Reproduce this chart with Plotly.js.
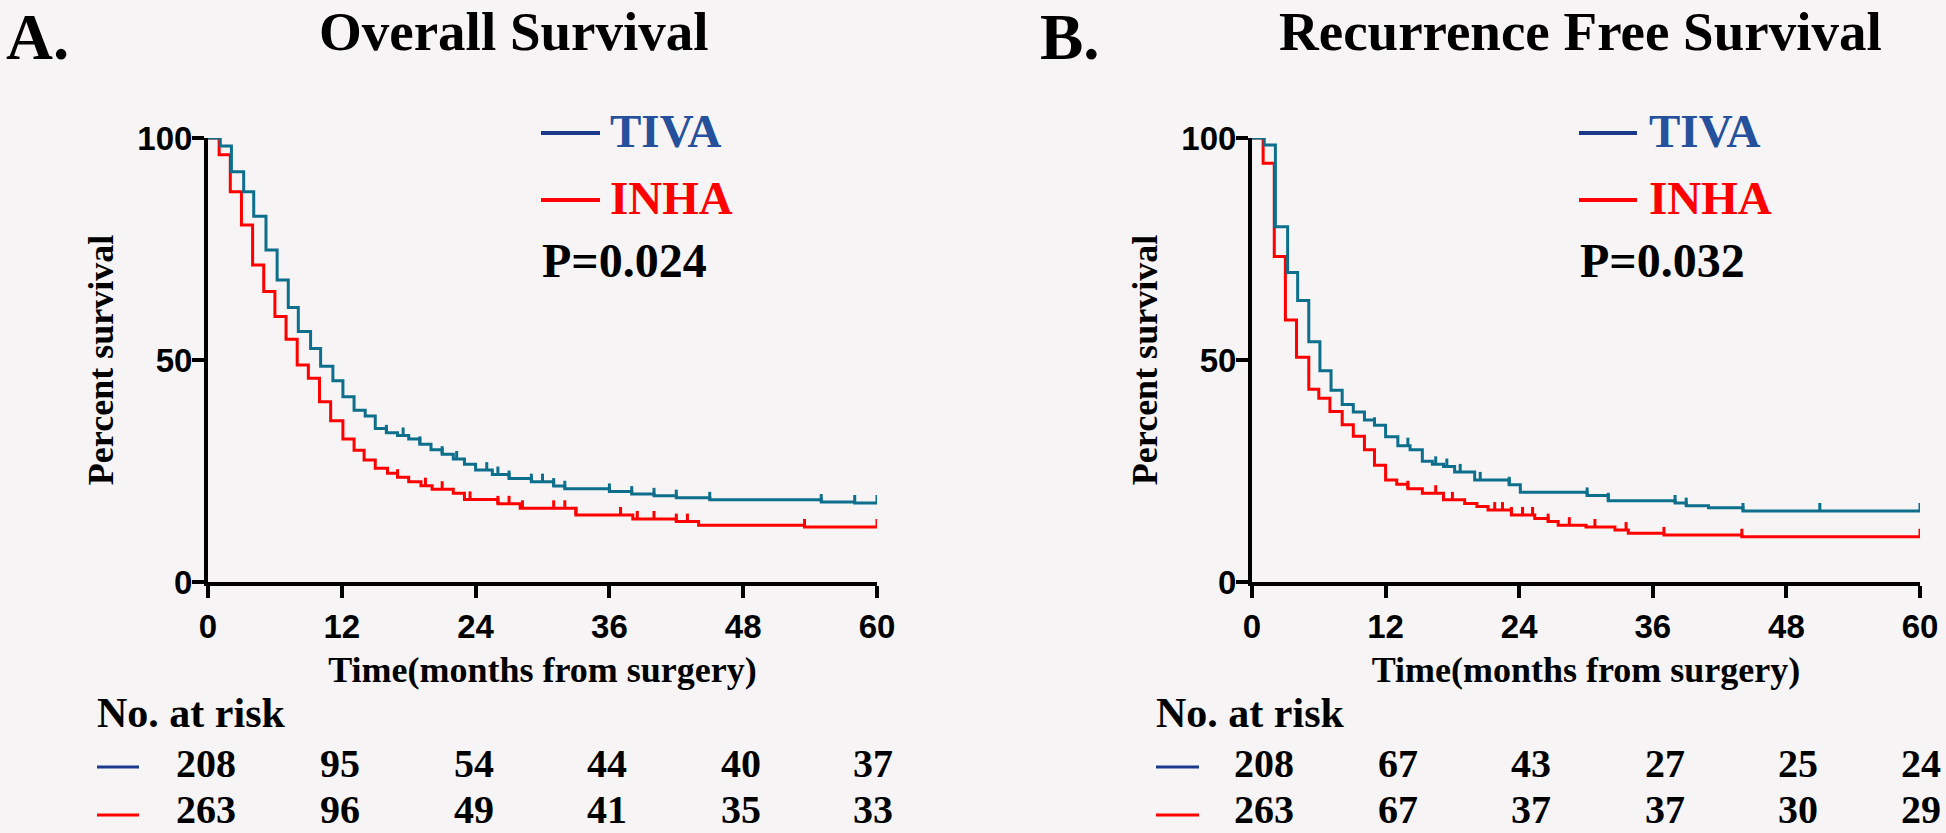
<!DOCTYPE html>
<html><head><meta charset="utf-8">
<script src="https://cdn.plot.ly/plotly-3.0.1.min.js"></script>
<style>html,body{margin:0;padding:0;background:#f6f4f5;} #chart{width:1946px;height:833px;}</style>
</head><body><div id="chart"></div>
<script>
// ---------- DATA ----------
const xTicks = [0, 12, 24, 36, 48, 60];
const yTicks = [0, 50, 100];
const groups = ['TIVA', 'INHA'];

// Panel A: Overall Survival (step times in months, survival % after each step)
const timesA_TIVA = [0, 1.1, 2.1, 3.2, 4.1, 5.2, 6.2, 7.2, 8.1, 9.2, 10.1, 11.2, 12.1, 13.1, 14.1, 15.0, 16.0, 17.0, 18.0, 19.0, 20.0, 21.0, 22.0, 23.0, 24.0, 25.5, 27.0, 29.0, 31.0, 32.0, 36.0, 38.0, 40.0, 42.0, 45.0, 55.0, 58.0, 60];
const survA_TIVA  = [100, 98.2, 92.4, 87.9, 82.4, 74.8, 68.0, 61.8, 56.4, 52.6, 48.6, 45.3, 41.7, 38.7, 37.4, 34.6, 33.6, 33.0, 32.2, 31.0, 29.8, 28.8, 27.7, 26.5, 25.2, 24.2, 23.3, 22.6, 21.6, 21.0, 20.4, 19.8, 19.4, 19.0, 18.5, 18.0, 17.8, 17.8];
const censorA_TIVA = [16, 17.5, 19, 21, 22.3, 25, 26, 27, 29, 30, 31, 32, 36, 38, 40, 42, 45, 55, 58, 60];

const timesA_INHA = [0, 1.0, 2.0, 3.0, 4.0, 5.0, 6.0, 7.0, 8.0, 9.0, 10.0, 11.0, 12.1, 13.1, 14.0, 15.0, 16.1, 17.0, 18.0, 19.1, 20.1, 22.0, 23.0, 26.0, 28.0, 33.0, 38.1, 42.0, 44.0, 53.5, 60];
const survA_INHA  = [100, 96.2, 87.9, 80.4, 71.4, 65.4, 59.8, 54.7, 48.9, 45.9, 40.6, 36.3, 32.2, 29.7, 27.5, 25.6, 24.5, 23.6, 22.6, 21.7, 20.9, 20.0, 18.6, 17.6, 16.6, 15.1, 14.2, 13.6, 12.8, 12.4, 12.4];
const censorA_INHA = [17, 19.5, 21, 23.5, 26, 27, 28.2, 31, 32, 33, 37, 38.5, 40, 42, 43, 53.5, 60];

// Panel B: Recurrence Free Survival
const timesB_TIVA = [0, 1.1, 2.1, 3.2, 4.1, 5.1, 6.1, 7.1, 8.1, 9.1, 10.1, 11.0, 12.0, 13.1, 14.2, 15.3, 16.2, 17.2, 18.2, 20.0, 23.1, 24.1, 30.1, 32.0, 38.0, 39.0, 41.0, 44.1, 60];
const survB_TIVA  = [100, 98.4, 80.0, 69.7, 63.4, 54.1, 47.6, 43.2, 40.0, 38.3, 36.5, 35.3, 32.7, 30.7, 29.8, 27.2, 26.5, 26.0, 24.8, 23.0, 21.9, 20.2, 19.5, 18.3, 17.8, 17.2, 16.7, 16.0, 16.0];
const censorB_TIVA = [11, 14, 16.5, 17.5, 18.7, 20.5, 23.1, 30.1, 32, 38, 39, 44.1, 51, 60];

const timesB_INHA = [0, 1.0, 2.0, 3.0, 4.0, 5.1, 6.0, 7.0, 8.1, 9.1, 10.1, 11.0, 12.0, 13.0, 14.0, 15.3, 17.2, 19.1, 20.2, 21.2, 23.3, 25.4, 26.6, 27.5, 30.0, 32.6, 33.8, 37.0, 44.0, 60];
const survB_INHA  = [100, 94.3, 73.3, 59.0, 50.6, 43.4, 41.4, 38.4, 35.4, 32.8, 29.8, 26.3, 23.0, 22.0, 21.0, 20.0, 18.5, 17.7, 17.0, 16.2, 15.1, 14.3, 13.6, 12.8, 12.4, 11.7, 11.0, 10.6, 10.2, 10.2];
const censorB_INHA = [14, 16.5, 18, 21.8, 22.5, 23.3, 24.3, 25.2, 26.6, 28.5, 30.8, 33.6, 37, 44, 60];

// Number at risk
const riskA_TIVA = [208, 95, 54, 44, 40, 37];
const riskA_INHA = [263, 96, 49, 41, 35, 33];
const riskB_TIVA = [208, 67, 43, 27, 25, 24];
const riskB_INHA = [263, 67, 37, 37, 30, 29];

const pA = 'P=0.024';
const pB = 'P=0.032';
const titleA = 'Overall Survival';
const titleB = 'Recurrence Free Survival';

// ---------- STYLE ----------
const W = 1946, H = 833;
const px = v => v / W;
const py = v => 1 - v / H;
const serif = 'Liberation Serif, Times New Roman, serif';
const sans = 'Liberation Sans, Arial, sans-serif';
const cTeal = '#0d6f8c';
const cRed = '#ff0000';
const cNavy = '#1b3a8c';
const cBlueText = '#25519c';
const TICK_H = 1.8;

function stepValue(ts, ss, t) {
  let v = ss[0];
  for (let i = 0; i < ts.length; i++) { if (ts[i] <= t) v = ss[i]; }
  return v;
}
function curve(ts, ss, color, xa, ya) {
  return {x: ts, y: ss, mode: 'lines', line: {shape: 'hv', color: color, width: 3},
    xaxis: xa, yaxis: ya, showlegend: false, hoverinfo: 'skip', cliponaxis: false};
}
function censor(ts, ss, cs, color, xa, ya) {
  const x = [], y = [];
  cs.forEach(c => { const s = stepValue(ts, ss, c); x.push(c, c, null); y.push(s, s + TICK_H, null); });
  return {x: x, y: y, mode: 'lines', line: {color: color, width: 3}, xaxis: xa, yaxis: ya,
    showlegend: false, hoverinfo: 'skip', cliponaxis: false};
}

const data = [
  curve(timesA_INHA, survA_INHA, cRed, 'x', 'y'),
  censor(timesA_INHA, survA_INHA, censorA_INHA, cRed, 'x', 'y'),
  curve(timesA_TIVA, survA_TIVA, cTeal, 'x', 'y'),
  censor(timesA_TIVA, survA_TIVA, censorA_TIVA, cTeal, 'x', 'y'),
  curve(timesB_INHA, survB_INHA, cRed, 'x2', 'y2'),
  censor(timesB_INHA, survB_INHA, censorB_INHA, cRed, 'x2', 'y2'),
  curve(timesB_TIVA, survB_TIVA, cTeal, 'x2', 'y2'),
  censor(timesB_TIVA, survB_TIVA, censorB_TIVA, cTeal, 'x2', 'y2')
];

const tickFont = {family: sans, size: 33, color: '#000', weight: 'bold'};
const axTitleFont = {family: serif, size: 36, color: '#000', weight: 'bold'};
function xAxis(domain, anchor) {
  return {domain: domain, anchor: anchor, range: [0, 60], tickvals: xTicks, ticktext: xTicks.map(String),
    ticks: 'outside', ticklen: 12, tickwidth: 4, tickcolor: '#000', showline: true, linecolor: '#000', linewidth: 4,
    showgrid: false, zeroline: false, tickfont: tickFont, fixedrange: true,
    title: {text: 'Time(months from surgery)', font: axTitleFont, standoff: 14}};
}
function yAxis(anchor) {
  return {domain: [py(582), py(138)], anchor: anchor, range: [0, 100], tickvals: yTicks, ticktext: yTicks.map(String),
    ticks: 'outside', ticklen: 12, tickwidth: 4, tickcolor: '#000', showline: true, linecolor: '#000', linewidth: 4,
    showgrid: false, zeroline: false, tickfont: tickFont, fixedrange: true, ticklabelstandoff: -7,
    title: {text: 'Percent survival', font: axTitleFont, standoff: 14}};
}

function ann(text, x, y, size, color, xanchor, extra) {
  return Object.assign({text: text, x: x, y: y, xref: 'paper', yref: 'paper', xanchor: xanchor || 'left', yanchor: 'middle',
    showarrow: false, font: {family: serif, size: size, color: color || '#000', weight: 'bold'}}, extra || {});
}

const annotations = [
  ann('A.', px(4), py(37), 65),
  ann(titleA, px(514), py(32), 55, '#000', 'center'),
  ann('B.', px(1038), py(37), 65),
  ann(titleB, px(1580), py(32), 55, '#000', 'center'),
  ann(groups[0], px(608), py(131), 47, cBlueText),
  ann(groups[1], px(608), py(198), 47, cRed),
  ann(pA, px(540), py(260), 48),
  ann(groups[0], px(1647), py(131), 47, cBlueText),
  ann(groups[1], px(1647), py(198), 47, cRed),
  ann(pB, px(1578), py(260), 48),
  ann('No. at risk', px(95), py(713), 42),
  ann('No. at risk', px(1154), py(713), 42)
];
function riskRow(vals, xref, yPix, shift, lastShift) {
  vals.forEach((v, i) => {
    annotations.push({text: String(v), x: xTicks[i], y: py(yPix), xref: xref, yref: 'paper', xanchor: 'center', yanchor: 'middle',
      xshift: i === vals.length - 1 ? lastShift : shift, showarrow: false,
      font: {family: serif, size: 40, color: '#000', weight: 'bold'}});
  });
}
riskRow(riskA_TIVA, 'x', 763, -2, -4);
riskRow(riskA_INHA, 'x', 809, -2, -4);
riskRow(riskB_TIVA, 'x2', 763, 12, 1);
riskRow(riskB_INHA, 'x2', 809, 12, 1);

function hline(x0, x1, y, color, w) {
  return {type: 'line', xref: 'paper', yref: 'paper', x0: px(x0), x1: px(x1), y0: py(y), y1: py(y), line: {color: color, width: w}};
}
const shapes = [
  hline(541, 600, 133, cNavy, 4), hline(541, 600, 200, cRed, 4),
  hline(1579, 1637, 133, cNavy, 4), hline(1579, 1637, 200, cRed, 4),
  hline(97, 139, 767, cNavy, 3), hline(97, 139, 815, cRed, 3),
  hline(1156, 1199, 767, cNavy, 3), hline(1156, 1199, 815, cRed, 3)
];

const layout = {
  width: W, height: H, margin: {l: 0, r: 0, t: 0, b: 0},
  paper_bgcolor: '#f6f4f5', plot_bgcolor: '#f6f4f5', showlegend: false,
  xaxis: xAxis([px(208), px(877)], 'y'),
  yaxis: yAxis('x'),
  xaxis2: xAxis([px(1252), px(1920)], 'y2'),
  yaxis2: yAxis('x2'),
  annotations: annotations, shapes: shapes
};

Plotly.newPlot('chart', data, layout, {displayModeBar: false, staticPlot: true});
</script>
</body></html>
